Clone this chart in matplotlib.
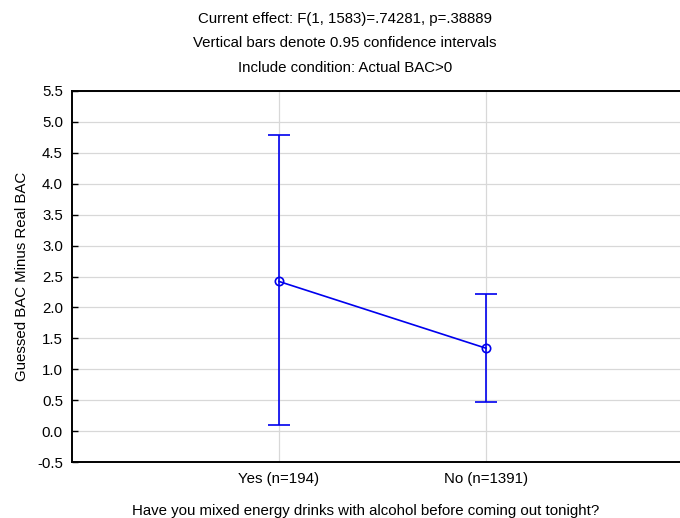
import matplotlib.pyplot as plt
import numpy as np

plt.rcParams['font.family'] = ['Liberation Sans', 'DejaVu Sans']

# data
categories = ['Yes (n=194)', 'No (n=1391)']
means = [2.42, 1.34]
ci_upper = [4.79, 2.22]
ci_lower = [0.10, 0.47]
yticks = np.arange(-0.5, 5.51, 0.5)

fs = 10.8
fig = plt.figure(figsize=(6.8, 5.18), dpi=100)
ax = fig.add_axes([72 / 680, 1 - 462 / 518, 621 / 680, 371 / 518])

x = np.arange(1, len(categories) + 1)
m = np.array(means)
err = [m - np.array(ci_lower), np.array(ci_upper) - m]
ax.errorbar(x, m, yerr=err, color='#0000ee', linewidth=1.2, elinewidth=1.2,
            capsize=8, capthick=1.2, marker='o', markersize=6,
            markerfacecolor='none', markeredgecolor='#0000ee', markeredgewidth=1.2,
            zorder=3)

ax.set_xlim(0, 3)
ax.set_ylim(-0.5, 5.5)
ax.set_yticks(yticks)
ax.set_yticklabels([f'{v:.1f}' for v in yticks])
ax.set_xticks(x)
ax.set_xticklabels(categories)
ax.grid(True, color='#d8d8d8', linewidth=0.9)
ax.set_axisbelow(True)
for s in ['left', 'bottom', 'top', 'right']:
    ax.spines[s].set_linewidth(1.4)
    ax.spines[s].set_color('black')
ax.tick_params(axis='y', direction='in', length=4, width=1, labelsize=fs, pad=6.5)
ax.tick_params(axis='x', direction='in', length=0, labelsize=fs, pad=7)

ax.set_ylabel('Guessed BAC Minus Real BAC', fontsize=fs, labelpad=6)

fig.text(366 / 680, 1 - 511 / 518,
         'Have you mixed energy drinks with alcohol before coming out tonight?',
         ha='center', va='center', fontsize=fs)

titles = ['Current effect: F(1, 1583)=.74281, p=.38889',
          'Vertical bars denote 0.95 confidence intervals',
          'Include condition: Actual BAC>0']
for i, t in enumerate(titles):
    fig.text(345 / 680, 1 - (18.5 + 24.5 * i) / 518, t, ha='center', va='center', fontsize=fs)

fig.savefig('out.png', dpi=100)
